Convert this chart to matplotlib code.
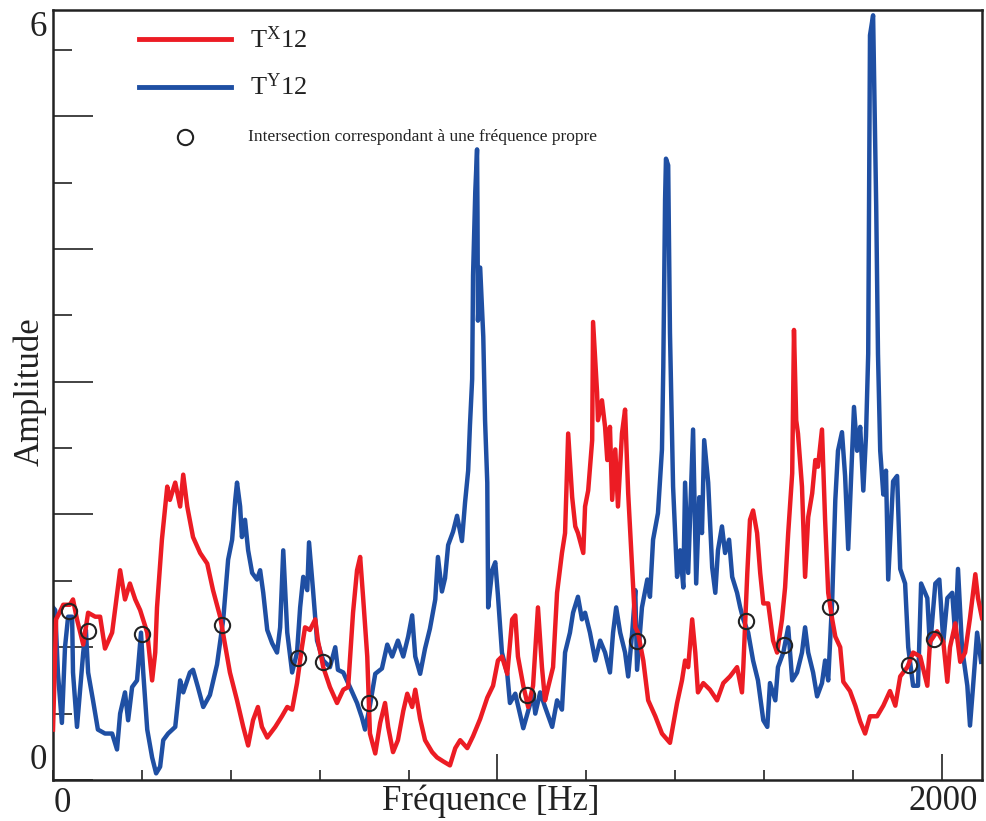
import matplotlib

matplotlib.use("Agg")
import matplotlib.pyplot as plt
from matplotlib.ticker import MultipleLocator, FixedLocator

plt.rcParams["font.family"] = ["Liberation Serif", "DejaVu Serif"]
plt.rcParams["mathtext.fontset"] = "custom"
plt.rcParams["mathtext.rm"] = "Liberation Serif"
plt.rcParams["mathtext.it"] = "Liberation Serif:italic"

RED = "#ec1c24"
BLUE = "#1f4fa3"

# T^x_12 (frequence Hz, amplitude)
tx_freq = [0, 7, 16, 23, 29, 38, 45, 54, 68, 79, 95, 106, 117, 133, 151, 162, 173, 185, 196, 212,
           223, 230, 234, 245, 257, 263, 275, 286, 293, 302, 315, 331, 347, 360, 376, 398, 414, 428, 439, 450,
           461, 470, 482, 500, 515, 527, 538, 549, 560, 567, 578, 590, 596, 608, 623, 639, 653, 664, 675, 684,
           691, 698, 707, 713, 725, 736, 747, 754, 765, 776, 788, 797, 808, 815, 826, 837, 853, 864, 878, 893,
           905, 916, 932, 945, 961, 977, 990, 1001, 1010, 1022, 1033, 1040, 1046, 1058, 1069, 1080, 1091, 1100, 1107, 1114,
           1125, 1134, 1141, 1145, 1152, 1159, 1168, 1175, 1181, 1193, 1197, 1204, 1213, 1215, 1224, 1226, 1235, 1242, 1247, 1253,
           1258, 1265, 1271, 1280, 1287, 1294, 1303, 1310, 1316, 1328, 1339, 1355, 1370, 1388, 1404, 1415, 1422, 1429, 1438, 1445,
           1451, 1463, 1478, 1494, 1508, 1523, 1539, 1550, 1553, 1562, 1568, 1575, 1584, 1591, 1598, 1609, 1620, 1629, 1640, 1647,
           1654, 1663, 1667, 1672, 1676, 1685, 1692, 1699, 1708, 1715, 1721, 1730, 1737, 1744, 1753, 1760, 1771, 1778, 1793, 1805,
           1816, 1827, 1838, 1854, 1868, 1883, 1895, 1906, 1922, 1935, 1951, 1967, 1973, 1989, 2003, 2012, 2018, 2030, 2041, 2052,
           2063, 2075, 2081, 2090]
tx_amp = [0.38, 1.21, 1.27, 1.32, 1.32, 1.32, 1.36, 1.21, 1.02, 1.26, 1.23, 1.23, 0.99, 1.11, 1.58, 1.36, 1.48, 1.36, 1.28, 1.11,
          0.75, 0.96, 1.30, 1.81, 2.21, 2.11, 2.24, 2.06, 2.30, 2.06, 1.83, 1.71, 1.63, 1.43, 1.23, 0.81, 0.60, 0.40, 0.26, 0.45,
          0.55, 0.40, 0.32, 0.40, 0.48, 0.55, 0.53, 0.73, 1.00, 1.15, 1.13, 1.21, 1.05, 0.85, 0.70, 0.58, 0.68, 0.70, 1.26, 1.58,
          1.68, 1.36, 0.93, 0.35, 0.20, 0.43, 0.58, 0.40, 0.21, 0.30, 0.52, 0.65, 0.55, 0.68, 0.46, 0.30, 0.21, 0.17, 0.14, 0.11,
          0.24, 0.30, 0.24, 0.33, 0.46, 0.62, 0.71, 0.90, 0.93, 0.80, 1.21, 1.24, 0.93, 0.71, 0.55, 0.71, 1.30, 0.85, 0.60, 0.70,
          0.85, 1.41, 1.60, 1.71, 1.86, 2.61, 2.13, 1.91, 1.86, 1.71, 2.06, 2.18, 2.56, 3.45, 2.92, 2.71, 2.86, 2.66, 2.41, 2.66,
          2.11, 2.49, 2.06, 2.61, 2.79, 2.16, 1.60, 1.15, 1.11, 0.90, 0.60, 0.48, 0.35, 0.28, 0.58, 0.75, 0.90, 0.85, 1.21, 0.96,
          0.66, 0.73, 0.68, 0.60, 0.73, 0.78, 0.85, 0.66, 0.85, 1.56, 1.96, 2.03, 1.86, 1.56, 1.33, 1.33, 1.05, 0.96, 1.21, 1.45,
          1.86, 2.31, 3.39, 2.71, 2.61, 2.21, 1.53, 1.98, 2.16, 2.41, 2.36, 2.64, 1.96, 1.41, 1.21, 1.08, 1.00, 0.74, 0.67, 0.56,
          0.44, 0.35, 0.48, 0.48, 0.56, 0.67, 0.56, 0.78, 0.85, 0.96, 0.93, 0.71, 1.04, 1.12, 1.04, 0.74, 1.00, 1.18, 0.89, 0.96,
          1.22, 1.55, 1.37, 1.22]

# T^Y_12
ty_freq = [0, 5, 11, 20, 27, 34, 43, 45, 54, 61, 68, 74, 79, 90, 101, 117, 133, 144, 151, 162,
           169, 178, 189, 198, 203, 212, 223, 232, 241, 248, 259, 275, 286, 293, 308, 315, 326, 338, 353, 369,
           383, 394, 403, 410, 414, 421, 425, 432, 439, 448, 459, 466, 473, 482, 493, 504, 511, 518, 527, 538,
           549, 556, 563, 572, 576, 585, 594, 608, 623, 635, 641, 653, 668, 684, 695, 702, 713, 725, 740, 752,
           763, 776, 788, 799, 808, 815, 826, 837, 848, 860, 866, 875, 882, 889, 900, 909, 920, 927, 934, 938,
           943, 945, 950, 954, 955, 956, 961, 968, 972, 977, 979, 988, 995, 1001, 1010, 1022, 1028, 1040, 1051, 1058,
           1069, 1080, 1085, 1096, 1107, 1123, 1134, 1145, 1152, 1163, 1170, 1181, 1190, 1197, 1208, 1220, 1231, 1242, 1253, 1260,
           1267, 1276, 1287, 1294, 1303, 1310, 1314, 1325, 1337, 1343, 1350, 1361, 1370, 1373, 1377, 1379, 1384, 1388, 1395, 1404,
           1411, 1418, 1422, 1429, 1440, 1447, 1454, 1460, 1465, 1474, 1483, 1490, 1496, 1505, 1512, 1521, 1528, 1539, 1546, 1553,
           1564, 1575, 1586, 1598, 1607, 1613, 1625, 1631, 1643, 1654, 1663, 1674, 1685, 1692, 1699, 1710, 1719, 1730, 1737, 1744,
           1753, 1760, 1766, 1775, 1782, 1789, 1798, 1802, 1809, 1816, 1823, 1829, 1834, 1838, 1845, 1852, 1856, 1861, 1868, 1874,
           1879, 1890, 1899, 1906, 1917, 1924, 1935, 1946, 1953, 1967, 1973, 1985, 1994, 2003, 2012, 2023, 2030, 2036, 2045, 2057,
           2063, 2070, 2079, 2088]
ty_amp = [1.30, 1.28, 0.81, 0.43, 1.00, 1.23, 1.23, 0.81, 0.40, 0.68, 0.96, 1.13, 0.81, 0.60, 0.38, 0.35, 0.35, 0.23, 0.50, 0.66,
          0.45, 0.70, 0.75, 1.11, 0.81, 0.38, 0.17, 0.05, 0.10, 0.30, 0.35, 0.40, 0.75, 0.66, 0.81, 0.83, 0.70, 0.55, 0.64, 0.87,
          1.21, 1.66, 1.81, 2.11, 2.24, 2.06, 1.83, 1.96, 1.73, 1.56, 1.51, 1.58, 1.41, 1.13, 1.03, 0.96, 1.15, 1.73, 1.11, 0.81,
          0.96, 1.30, 1.53, 1.43, 1.79, 1.43, 1.05, 0.90, 0.85, 1.00, 0.83, 0.81, 0.70, 0.58, 0.47, 0.38, 0.56, 0.80, 0.84, 1.02,
          0.93, 1.05, 0.93, 1.08, 1.24, 0.93, 0.80, 0.99, 1.14, 1.36, 1.68, 1.42, 1.52, 1.77, 1.87, 1.99, 1.80, 2.09, 2.33, 2.67,
          3.02, 3.80, 4.43, 4.75, 4.27, 3.46, 3.86, 3.34, 2.71, 2.24, 1.30, 1.58, 1.64, 1.39, 0.96, 0.80, 0.58, 0.65, 0.49, 0.39,
          0.52, 0.65, 0.50, 0.66, 0.55, 0.40, 0.60, 0.53, 0.96, 1.11, 1.26, 1.38, 1.21, 1.26, 1.11, 0.90, 1.05, 0.96, 0.81, 1.11,
          1.30, 1.11, 0.96, 0.78, 1.11, 1.43, 0.83, 1.30, 1.51, 1.38, 1.81, 2.01, 2.49, 3.11, 4.37, 4.68, 4.63, 3.37, 2.21, 1.53,
          1.73, 1.45, 2.24, 1.56, 2.64, 1.48, 2.13, 1.86, 2.56, 2.24, 1.60, 1.41, 1.73, 1.91, 1.71, 1.81, 1.53, 1.41, 1.30, 1.21,
          1.11, 0.90, 0.75, 0.45, 0.40, 0.73, 0.60, 0.85, 0.96, 1.15, 0.75, 0.81, 0.96, 1.15, 0.96, 0.81, 0.63, 0.73, 0.90, 0.75,
          1.36, 2.11, 2.48, 2.62, 2.29, 1.74, 2.48, 2.81, 2.48, 2.66, 2.18, 2.59, 3.21, 5.61, 5.76, 4.32, 3.21, 2.48, 2.15, 2.33,
          1.51, 2.25, 2.29, 1.59, 1.48, 1.00, 0.71, 0.71, 1.48, 1.37, 1.00, 1.48, 1.51, 1.04, 1.37, 1.41, 1.08, 1.59, 1.00, 0.71,
          0.41, 0.71, 1.11, 0.89]

# intersections (frequences propres)
ix_freq = [36, 79, 200, 380, 551, 608, 711, 1067, 1314, 1559, 1645, 1748, 1926, 1982]
ix_amp = [1.27, 1.12, 1.10, 1.17, 0.92, 0.89, 0.58, 0.64, 1.05, 1.20, 1.02, 1.30, 0.87, 1.06]

W, H = 986, 821
fig = plt.figure(figsize=(W / 100, H / 100), dpi=100)
ax = fig.add_axes([53 / W, 1 - 780 / H, 929 / W, 770 / H])

ax.plot(ty_freq, ty_amp, color=BLUE, lw=3.2, zorder=2)
ax.plot(tx_freq, tx_amp, color=RED, lw=3.2, zorder=3)
ax.plot(ix_freq, ix_amp, "o", ms=11, mfc="none", mec="#222222", mew=1.5, zorder=4)

ax.set_xlim(0, 2090)
ax.set_ylim(0, 5.8)

# ticks inside, long / short
ax.xaxis.set_major_locator(FixedLocator([1000, 2000]))
ax.xaxis.set_minor_locator(MultipleLocator(200))
ax.yaxis.set_major_locator(MultipleLocator(1))
ax.yaxis.set_minor_locator(MultipleLocator(0.5))
ax.tick_params(axis="x", which="major", direction="in", length=19, width=1.2, color="#222222")
ax.tick_params(axis="x", which="minor", direction="in", length=7, width=1.2, color="#222222")
ax.tick_params(axis="y", which="major", direction="in", length=29, width=1.2, color="#222222")
ax.tick_params(axis="y", which="minor", direction="in", length=14, width=1.2, color="#222222")
ax.tick_params(which="both", labelbottom=False, labelleft=False)
for s in ax.spines.values():
    s.set_linewidth(1.8)
    s.set_color("#222222")

# legend drawn by hand
ax.plot([0.093, 0.192], [0.962, 0.962], transform=ax.transAxes, color=RED, lw=3.5)
ax.plot([0.093, 0.192], [0.900, 0.900], transform=ax.transAxes, color=BLUE, lw=3.5)
ax.plot([0.142], [0.835], "o", transform=ax.transAxes, ms=11, mfc="none", mec="#222222", mew=1.5)
ax.text(0.212, 0.962, r"T$^{\mathrm{X}}$12", transform=ax.transAxes, fontsize=19, va="center", color="#222222")
ax.text(0.212, 0.900, r"T$^{\mathrm{Y}}$12", transform=ax.transAxes, fontsize=19, va="center", color="#222222")
ax.text(0.210, 0.835, "Intersection correspondant à une fréquence propre", transform=ax.transAxes,
        fontsize=12.5, va="center", color="#222222")

# axis texts
fig.text(38 / W, 1 - 28 / H, "6", fontsize=25, ha="center", va="center", color="#222222")
fig.text(38 / W, 1 - 760 / H, "0", fontsize=25, ha="center", va="center", color="#222222")
fig.text(30 / W, 1 - 392 / H, "Amplitude", fontsize=25, rotation=90, ha="center", va="center", color="#222222")
fig.text(62 / W, 1 - 803 / H, "0", fontsize=25, ha="center", va="center", color="#222222")
fig.text(491 / W, 1 - 801 / H, "Fréquence [Hz]", fontsize=25, ha="center", va="center", color="#222222")
fig.text(943 / W, 1 - 801 / H, "2000", fontsize=25, ha="center", va="center", color="#222222")

fig.savefig("out.png", dpi=100)
